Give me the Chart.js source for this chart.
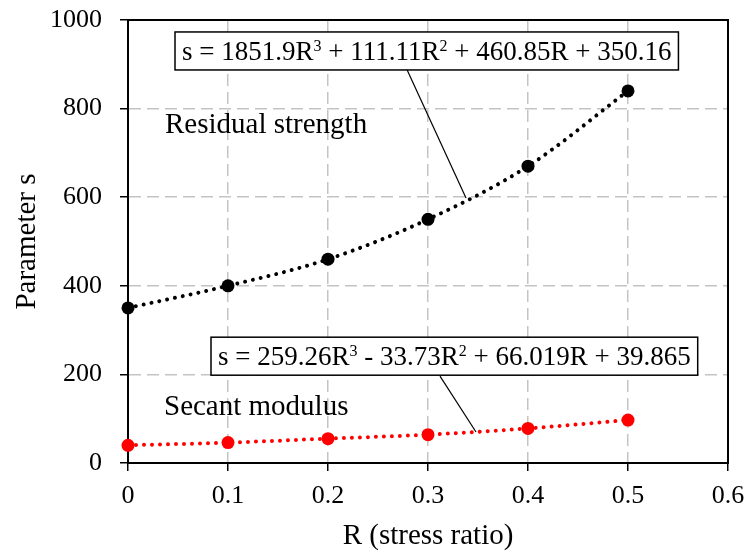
<!DOCTYPE html>
<html><head><meta charset="utf-8">
<style>html,body{margin:0;padding:0;background:#fff;}</style>
<script src="https://cdn.jsdelivr.net/npm/chart.js@4/dist/chart.umd.min.js"></script>
</head><body>
<canvas id="c" width="747" height="554"></canvas>
<script>
// ---- data ----
const stressRatio = [0, 0.1, 0.2, 0.3, 0.4, 0.5];
const residualStrength = [350, 400, 460, 550, 670, 840];
const secantModulus = [40, 46, 55, 64, 78, 97];
const xTickValues = [0, 0.1, 0.2, 0.3, 0.4, 0.5, 0.6];
const yTickValues = [0, 200, 400, 600, 800, 1000];
const xAxisTitle = 'R (stress ratio)';
const yAxisTitle = 'Parameter s';
const residualLabel = 'Residual strength';
const secantLabel = 'Secant modulus';
const residualEquation = [['s = 1851.9R', 0], ['3', 1], [' + 111.11R', 0], ['2', 1], [' + 460.85R + 350.16', 0]];
const secantEquation = [['s = 259.26R', 0], ['3', 1], [' - 33.73R', 0], ['2', 1], [' + 66.019R + 39.865', 0]];

const FONT = "'Liberation Serif', 'Times New Roman', serif";

function pts(xs, ys) { return xs.map((x, i) => ({ x: x, y: ys[i] })); }

function drawEquation(ctx, parts, left, top) {
  const main = "27px " + FONT, sup = "16px " + FONT;
  let w = 0;
  parts.forEach(p => { ctx.font = p[1] ? sup : main; w += ctx.measureText(p[0]).width; });
  const padX = 7, h = 38;
  ctx.fillStyle = '#fff';
  ctx.fillRect(left, top, w + 2 * padX, h);
  ctx.strokeStyle = '#000'; ctx.lineWidth = 1.5;
  ctx.strokeRect(left, top, w + 2 * padX, h);
  let x = left + padX; const base = top + 28;
  ctx.fillStyle = '#000'; ctx.textBaseline = 'alphabetic'; ctx.textAlign = 'left';
  parts.forEach(p => {
    ctx.font = p[1] ? sup : main;
    ctx.fillText(p[0], x, p[1] ? base - 9 : base);
    x += ctx.measureText(p[0]).width;
  });
}

const annot = {
  id: 'annot',
  beforeDatasetsDraw(chart) {
    const { ctx, chartArea: a } = chart;
    ctx.save();
    ctx.strokeStyle = '#000'; ctx.lineWidth = 2;
    ctx.strokeRect(a.left, a.top, a.right - a.left, a.bottom - a.top);
    ctx.restore();
  },
  afterDatasetsDraw(chart) {
    const { ctx } = chart;
    const X = v => chart.scales.x.getPixelForValue(v);
    const Y = v => chart.scales.y.getPixelForValue(v);
    ctx.save();
    ctx.strokeStyle = '#000'; ctx.lineWidth = 1.2;
    ctx.beginPath(); ctx.moveTo(X(0.278), Y(893)); ctx.lineTo(X(0.338), Y(598)); ctx.stroke();
    ctx.beginPath(); ctx.moveTo(X(0.312), Y(196)); ctx.lineTo(X(0.348), Y(70)); ctx.stroke();
    drawEquation(ctx, residualEquation, X(0.047), Y(973));
    drawEquation(ctx, secantEquation, X(0.083), Y(284));
    ctx.font = "29px " + FONT; ctx.fillStyle = '#000'; ctx.textBaseline = 'alphabetic'; ctx.textAlign = 'left';
    ctx.fillText(residualLabel, X(0.037), Y(745));
    ctx.fillText(secantLabel, X(0.036), Y(108));
    ctx.restore();
  }
};

function dotted(color) {
  return {
    borderColor: color, backgroundColor: color,
    pointBackgroundColor: color, pointBorderColor: color,
    pointRadius: 6.5, pointHoverRadius: 6.5, pointBorderWidth: 0,
    borderWidth: 4, borderDash: [0.001, 8], borderCapStyle: 'round',
    cubicInterpolationMode: 'monotone', clip: false, fill: false
  };
}

const tickFont = { family: FONT, size: 26 };
const titleFont = { family: FONT, size: 29 };

new Chart(document.getElementById('c'), {
  type: 'line',
  data: {
    datasets: [
      Object.assign({ label: residualLabel, data: pts(stressRatio, residualStrength) }, dotted('#000000')),
      Object.assign({ label: secantLabel, data: pts(stressRatio, secantModulus) }, dotted('#ff0000'))
    ]
  },
  options: {
    responsive: false, animation: false, devicePixelRatio: 1,
    layout: { padding: { top: 20, right: 19, left: 0, bottom: 0 } },
    plugins: { legend: { display: false }, tooltip: { enabled: false } },
    scales: {
      x: {
        type: 'linear', min: 0, max: 0.6,
        afterBuildTicks: s => { s.ticks = xTickValues.map(v => ({ value: v })); },
        afterFit: s => { s.height = 91; s.paddingLeft = 0; s.paddingRight = 0; },
        ticks: { font: tickFont, color: '#000', padding: 10, maxRotation: 0, callback: v => String(v) },
        grid: { color: '#c4c4c4', lineWidth: 1.5, tickColor: '#000', tickLength: 8, tickWidth: 1.5, tickBorderDash: [] },
        border: { display: true, color: '#000', width: 2, dash: [12, 6] },
        title: { display: true, text: xAxisTitle, font: titleFont, color: '#000', padding: { top: 0, bottom: 0 } }
      },
      y: {
        min: 0, max: 1000,
        afterBuildTicks: s => { s.ticks = yTickValues.map(v => ({ value: v })); },
        afterFit: s => { s.width = 128; s.paddingTop = 0; s.paddingBottom = 0; },
        ticks: { font: tickFont, color: '#000', padding: 18, callback: v => String(v) },
        grid: { color: '#c4c4c4', lineWidth: 1.5, tickColor: '#000', tickLength: 8, tickWidth: 1.5, tickBorderDash: [] },
        border: { display: true, color: '#000', width: 2, dash: [12, 6] },
        title: { display: true, text: yAxisTitle, font: titleFont, color: '#000', padding: { top: 10, bottom: 0 } }
      }
    }
  },
  plugins: [annot]
});
</script>
</body></html>
